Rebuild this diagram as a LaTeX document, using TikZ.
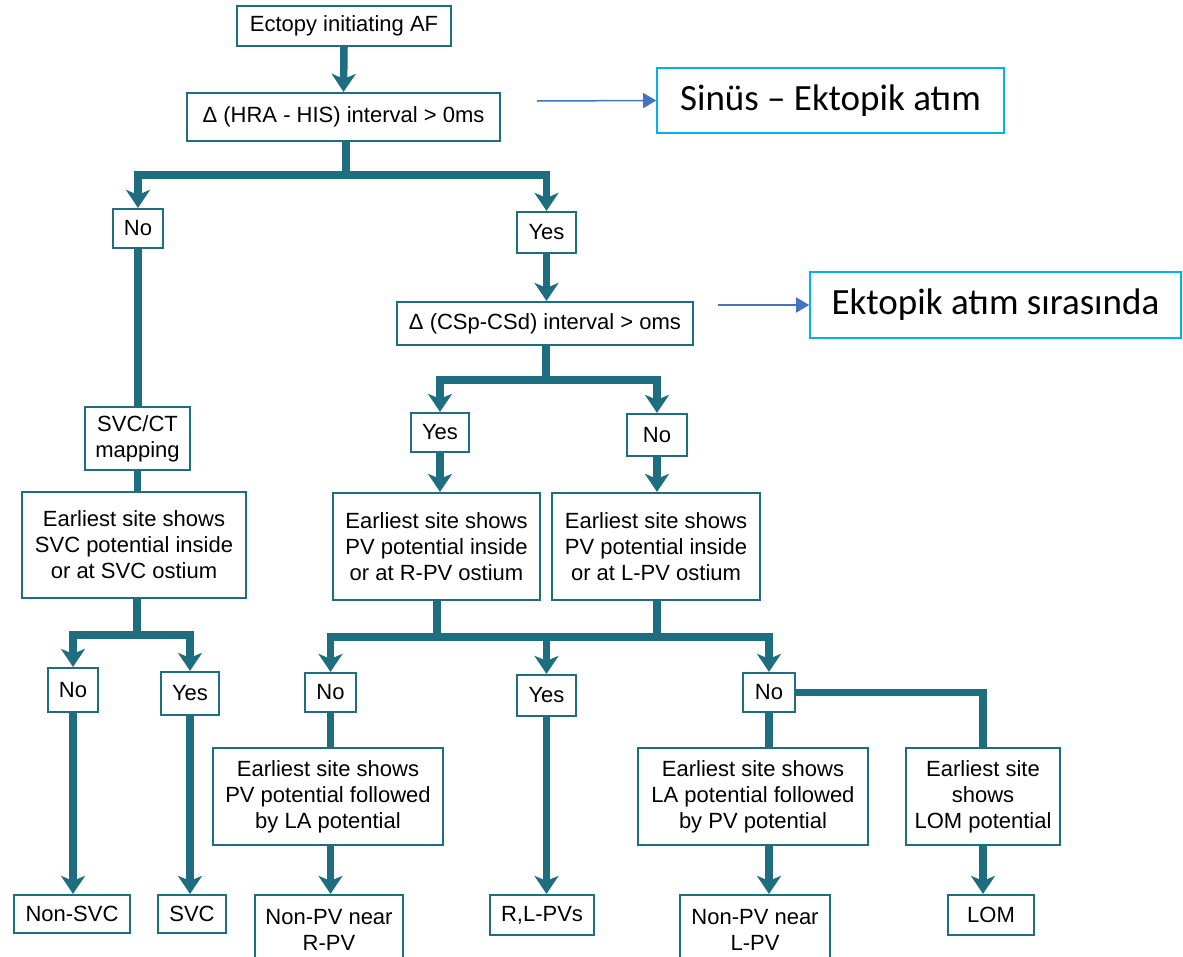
\documentclass[tikz,border=0pt]{standalone}
\usepackage{fontspec}
\setmainfont{Liberation Sans}
\newfontfamily\calib{Carlito}
\usetikzlibrary{arrows.meta}
\definecolor{teal1}{RGB}{31,110,128}
\definecolor{ann}{RGB}{68,114,196}
\definecolor{annbox}{RGB}{0,176,240}
\begin{document}
\begin{tikzpicture}[x=1pt,y=-1pt,
 box/.style={draw=teal1, line width=2.2pt, fill=white, inner sep=0pt, align=center,
   font=\fontsize{22}{26}\selectfont, text=black},
 flow/.style={draw=teal1, line width=7.5pt, line join=miter},
 flowa/.style={flow, -{Stealth[length=18pt,width=24pt,inset=5pt]}},
 abox/.style={draw=annbox, line width=1.6pt, inner sep=0pt, font=\calib\fontsize{37}{44}\selectfont},
 aarrow/.style={draw=ann, line width=1.5pt, -{Triangle[length=13pt,width=15pt]}}]
\useasboundingbox (0,0) rectangle (1183,956);
\clip (0,0) rectangle (1183,956);
% boxes
\node[box, minimum width=214pt, minimum height=40pt] (ecto) at (344,26) {Ectopy initiating AF};
\node[box, minimum width=313pt, minimum height=48pt] (hra) at (343.5,117) {Δ (HRA - HIS) interval > 0ms};
\node[box, minimum width=50pt, minimum height=39pt] (no1) at (138,228.5) {No};
\node[box, minimum width=59pt, minimum height=41pt] (yes1) at (546.5,232.5) {Yes};
\node[box, minimum width=296pt, minimum height=43pt] (csp) at (545,323.5) {Δ (CSp-CSd) interval > oms};
\node[box, minimum width=58pt, minimum height=39pt] (yes2) at (440,432.5) {Yes};
\node[box, minimum width=60pt, minimum height=42pt] (no2) at (657,435) {No};
\node[box, minimum width=105pt, minimum height=63pt] (svcct) at (137.5,438.5) {SVC/CT\\mapping};
\node[box, minimum width=224pt, minimum height=106pt] (esvc) at (134,545) {Earliest site shows\\SVC potential inside\\or at SVC ostium};
\node[box, minimum width=207pt, minimum height=107pt] (erpv) at (436.5,546.5) {Earliest site shows\\PV potential inside\\or at R-PV ostium};
\node[box, minimum width=208pt, minimum height=107pt] (elpv) at (656,546.5) {Earliest site shows\\PV potential inside\\or at L-PV ostium};
\node[box, minimum width=50pt, minimum height=44pt] (no3) at (73,690) {No};
\node[box, minimum width=58pt, minimum height=43pt] (yes3) at (190,693.5) {Yes};
\node[box, minimum width=116pt, minimum height=38pt] (nonsvc) at (72,914) {Non-SVC};
\node[box, minimum width=68pt, minimum height=38pt] (svc) at (192,914) {SVC};
\node[box, minimum width=51pt, minimum height=39pt] (no4) at (330.5,692.5) {No};
\node[box, minimum width=59pt, minimum height=41pt] (yes4) at (546.5,695.5) {Yes};
\node[box, minimum width=52pt, minimum height=39pt] (no5) at (769,692.5) {No};
\node[box, minimum width=230pt, minimum height=97pt] (epvla) at (328,796.5) {Earliest site shows\\PV potential followed\\by LA potential};
\node[box, minimum width=148pt, minimum height=70pt] (nonpvr) at (329,930) {Non-PV near\\R-PV};
\node[box, minimum width=104pt, minimum height=40pt] (rlpv) at (542,915) {R,L-PVs};
\node[box, minimum width=230pt, minimum height=97pt] (elapv) at (753,796.5) {Earliest site shows\\LA potential followed\\by PV potential};
\node[box, minimum width=150pt, minimum height=70pt] (nonpvl) at (755,930) {Non-PV near\\L-PV};
\node[box, minimum width=154pt, minimum height=97pt] (elom) at (983,796.5) {Earliest site\\shows\\LOM potential};
\node[box, minimum width=86pt, minimum height=40pt] (lom) at (991,915) {LOM};
% annotations
\node[abox, minimum width=347pt, minimum height=65pt] (sinus) at (830.5,100.5) {Sinüs – Ektopik atım};
\node[abox, minimum width=371pt, minimum height=66pt] (ekt) at (995.5,305) {Ektopik atım sırasında};
\coordinate (s0) at (537,101);
\coordinate (e0) at (718,305);
\draw[aarrow] (s0) -- (sinus.west);
\draw[aarrow] (e0) -- (ekt.west);
% junctions
\coordinate (j1) at (346,175);
\coordinate (j2) at (546,380);
\coordinate (j3) at (137,635);
\coordinate (j4) at (437,637);
\coordinate (j5) at (657,637);
% connectors
\draw[flowa] (ecto.south) -- (hra.north);
\draw[flow] (hra.south -| j1) -- (j1);
\draw[flowa] (j1) -| (no1.north);
\draw[flowa] (j1) -| (yes1.north);
\draw[flow] (no1.south) -- (no1.south |- svcct.north);
\draw[flowa] (yes1.south) -- (yes1.south |- csp.north);
\draw[flow] (csp.south -| j2) -- (j2);
\draw[flowa] (j2) -| (yes2.north);
\draw[flowa] (j2) -| (no2.north);
\draw[flowa] (yes2.south) -- (yes2.south |- erpv.north);
\draw[flowa] (no2.south) -- (no2.south |- elpv.north);
\draw[flow] (svcct.south) -- (svcct.south |- esvc.north);
\draw[flow] (esvc.south -| j3) -- (j3);
\draw[flowa] (j3) -| (no3.north);
\draw[flowa] (j3) -| (yes3.north);
\draw[flowa] (no3.south) -- (no3.south |- nonsvc.north);
\draw[flowa] (yes3.south) -- (yes3.south |- svc.north);
\draw[flow] (erpv.south -| j4) -- (j4);
\draw[flow] (elpv.south -| j5) -- (j5);
\draw[flowa] (j5) -| (no4.north);
\draw[flowa] (j4) -| (no5.north);
\draw[flowa] (yes4.north |- j4) -- (yes4.north);
\draw[flowa] (yes4.south) -- (yes4.south |- rlpv.north);
\draw[flow] (no4.south) -- (no4.south |- epvla.north);
\draw[flowa] (no4.south |- epvla.south) -- (no4.south |- nonpvr.north);
\draw[flow] (no5.south) -- (no5.south |- elapv.north);
\draw[flowa] (no5.south |- elapv.south) -- (no5.south |- nonpvl.north);
\draw[flow] (no5.east) -| (elom.north);
\draw[flowa] (elom.south) -- (elom.south |- lom.north);
\end{tikzpicture}
\end{document}
